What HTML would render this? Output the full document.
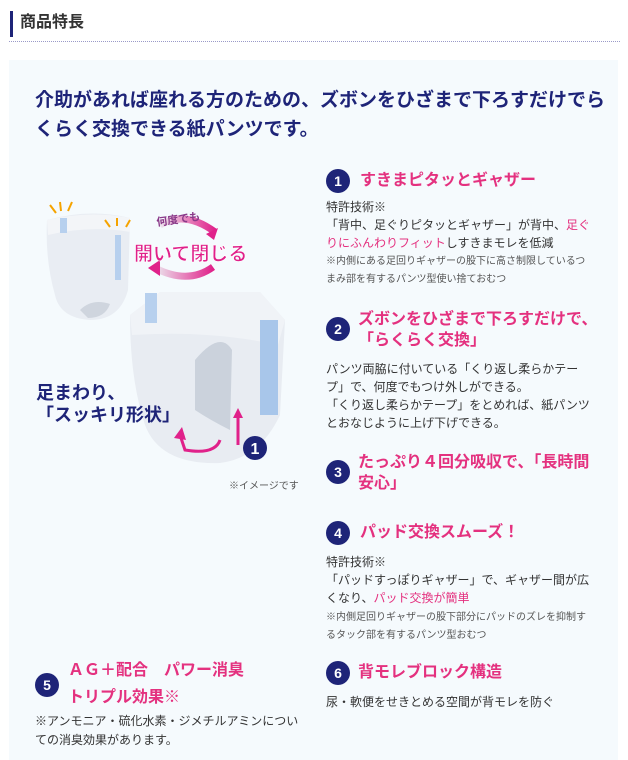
<!DOCTYPE html>
<html><head><meta charset="utf-8"><style>
*{margin:0;padding:0}
body{width:628px;height:760px;background:#fff;position:relative;overflow:hidden;font-family:"Liberation Sans","Noto Sans CJK JP",sans-serif;color:#333}
.a{position:absolute;white-space:nowrap}
.t{font-size:16px;font-weight:bold;color:#e4317f;line-height:20px}
.b{font-size:12px;line-height:18px}
.s{font-size:10px;line-height:18px;color:#555}
.p{color:#e4317f}
.c{position:absolute;width:24px;height:24px;border-radius:50%;background:#1e2478;color:#fff;font-weight:bold;font-size:14px;line-height:24px;text-align:center}
</style></head><body>
<div class="a" style="left:10px;top:11px;width:3px;height:26px;background:#1e2478"></div>
<div class="a" style="left:20px;top:13px;font-size:16px;font-weight:bold;color:#333;line-height:20px">商品特長</div>
<div class="a" style="left:9px;top:41px;width:611px;border-top:1px dotted #9a9ac8"></div>
<div class="a" style="left:9px;top:60px;width:609px;height:700px;background:#f5fafd"></div>
<div class="a" style="left:35px;top:86px;font-size:19px;font-weight:bold;color:#1e2478;line-height:29px">介助があれば座れる方のための、ズボンをひざまで下ろすだけでら<br>くらく交換できる紙パンツです。</div>

<svg class="a" style="left:20px;top:180px" width="300" height="300" viewBox="0 0 300 300">
<defs><linearGradient id="g" x1="0" x2="1"><stop offset="0" stop-color="#ece6ee"/><stop offset="1" stop-color="#e0218a"/></linearGradient></defs>
<path d="M27 40 Q70 28 110 38 L108 110 Q100 140 70 140 Q40 138 35 115 Q25 80 27 40Z" fill="#e9edf3"/>
<path d="M27 40 Q70 30 110 38 L110 52 Q70 45 28 55Z" fill="#f3f5f8"/>
<rect x="40" y="38" width="7" height="15" fill="#b7d0ee"/><rect x="95" y="55" width="6" height="45" fill="#b7d0ee"/>
<path d="M60 130 Q72 118 90 124 Q85 138 68 138Z" fill="#cfd5de"/>
<g stroke="#f5a300" stroke-width="2"><line x1="30" y1="25" x2="36" y2="33"/><line x1="40" y1="22" x2="41" y2="31"/><line x1="52" y1="22" x2="48" y2="31"/><line x1="85" y1="40" x2="90" y2="47"/><line x1="97" y1="38" x2="97" y2="46"/><line x1="110" y1="40" x2="106" y2="47"/></g>
<path d="M140 45 Q165 30 195 52" stroke="url(#g)" stroke-width="7" fill="none"/><path d="M186 54 L198 48 L194 60Z" fill="#e0218a"/>
<path d="M193 87 Q168 105 135 88" stroke="url(#g)" stroke-width="7" fill="none"/><path d="M140 80 L128 88 L140 96Z" fill="#e0218a"/>
<text x="137" y="46" font-size="11" font-weight="bold" fill="#8a3a8a" font-family="Noto Sans CJK JP" transform="rotate(-8 137 46)">何度でも</text>
<text x="114" y="80" font-size="19" font-weight="bold" fill="#e0218a" stroke="#fff" stroke-width="0.6" font-family="Noto Sans CJK JP">開いて閉じる</text>
<path d="M110 135 L140 112 L240 112 L265 140 L260 235 Q240 278 200 283 Q140 285 125 245 Q110 200 110 135Z" fill="#e8ecf2"/>
<path d="M110 135 L140 112 L240 112 L265 140 L258 165 Q190 150 112 155Z" fill="#f0f3f7"/>
<rect x="125" y="113" width="12" height="30" fill="#b7d0ee"/><rect x="240" y="140" width="18" height="95" fill="#a8c6ea"/>
<path d="M175 180 Q200 150 212 170 L210 250 Q190 240 175 230Z" fill="#cbd2dc"/>
<path d="M200 260 Q195 275 165 270 L160 255" stroke="#e0218a" stroke-width="3" fill="none"/><path d="M154 258 L162 247 L166 260Z" fill="#e0218a"/>
<line x1="218" y1="265" x2="218" y2="236" stroke="#e0218a" stroke-width="3"/><path d="M213 238 L218 228 L223 238Z" fill="#e0218a"/>
<circle cx="235" cy="268" r="12" fill="#1e2478"/><text x="235" y="274" text-anchor="middle" font-size="16" font-weight="bold" fill="#fff">1</text>
</svg>
<div class="a" style="left:36px;top:382px;font-size:18px;font-weight:bold;color:#1e2478;line-height:22px">足まわり、<br>「スッキリ形状」</div>
<div class="a" style="left:229px;top:480px;font-size:10px;color:#555;line-height:14px">※イメージです</div>

<div class="c" style="left:326px;top:169px">1</div>
<div class="a t" style="left:360px;top:171px">すきまピタッとギャザー</div>
<div class="a b" style="left:326px;top:198px">特許技術※<br>「背中、足ぐりピタッとギャザー」が背中、<span class="p">足ぐ</span><br><span class="p">りにふんわりフィット</span>しすきまモレを低減</div>
<div class="a s" style="left:326px;top:253px">※内側にある足回りギャザーの股下に高さ制限しているつ<br>まみ部を有するパンツ型使い捨ておむつ</div>

<div class="c" style="left:326px;top:317px">2</div>
<div class="a t" style="left:358px;top:309px;line-height:21px">ズボンをひざまで下ろすだけで、<br>「らくらく交換」</div>
<div class="a b" style="left:326px;top:360px">パンツ両脇に付いている「くり返し柔らかテー<br>プ」で、何度でもつけ外しができる。<br>「くり返し柔らかテープ」をとめれば、紙パンツ<br>とおなじように上げ下げできる。</div>

<div class="c" style="left:326px;top:460px">3</div>
<div class="a t" style="left:358px;top:452px;line-height:21px">たっぷり４回分吸収で、「長時間<br>安心」</div>

<div class="c" style="left:326px;top:521px">4</div>
<div class="a t" style="left:360px;top:523px">パッド交換スムーズ！</div>
<div class="a b" style="left:326px;top:553px">特許技術※<br>「パッドすっぽりギャザー」で、ギャザー間が広<br>くなり、<span class="p">パッド交換が簡単</span></div>
<div class="a s" style="left:326px;top:609px">※内側足回りギャザーの股下部分にパッドのズレを抑制す<br>るタック部を有するパンツ型おむつ</div>

<div class="c" style="left:326px;top:661px">6</div>
<div class="a t" style="left:358px;top:663px">背モレブロック構造</div>
<div class="a b" style="left:326px;top:693px">尿・軟便をせきとめる空間が背モレを防ぐ</div>

<div class="c" style="left:35px;top:673px">5</div>
<div class="a t" style="left:68px;top:657px;line-height:27px">ＡＧ＋配合　パワー消臭<br>トリプル効果※</div>
<div class="a b" style="left:35px;top:712px;line-height:19px">※アンモニア・硫化水素・ジメチルアミンについ<br>ての消臭効果があります。</div>
</body></html>
